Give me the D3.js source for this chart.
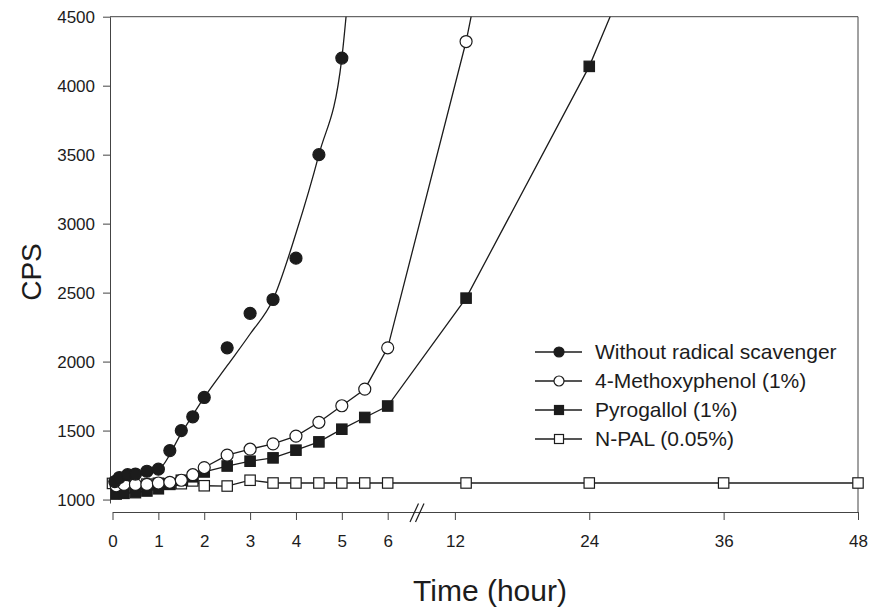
<!DOCTYPE html>
<html>
<head>
<meta charset="utf-8">
<script src="https://cdn.jsdelivr.net/npm/d3@7"></script>
<style>
  body { margin: 0; background: #fff; }
  svg { display: block; font-family: "Liberation Sans", Arial, sans-serif; }
</style>
</head>
<body>
<svg id="chart"></svg>
<script>
const width = 870;
const height = 609;

// Without radical scavenger (points + fitted curve)
const noScavTime = [0.05, 0.15, 0.33, 0.5, 0.75, 1, 1.25, 1.5, 1.75, 2, 2.5, 3, 3.5, 4, 4.5, 5];
const noScavCPS  = [1130, 1160, 1180, 1185, 1205, 1220, 1355, 1500, 1600, 1740, 2100, 2350, 2450, 2750, 3500, 4200];
const noScavFitTime = [0, 0.5, 1, 1.5, 2, 2.5, 3, 3.5, 4, 4.5, 5, 5.12];
const noScavFitCPS  = [1130, 1170, 1215, 1480, 1740, 1970, 2200, 2450, 2930, 3500, 4200, 4600];

// 4-Methoxyphenol (1%)
const methoxyTime = [0.08, 0.25, 0.5, 0.75, 1, 1.25, 1.5, 1.75, 2, 2.5, 3, 3.5, 4, 4.5, 5, 5.5, 6, 13, 24];
const methoxyCPS  = [1100, 1110, 1110, 1110, 1120, 1125, 1140, 1180, 1232, 1322, 1365, 1404, 1460, 1560, 1680, 1800, 2100, 4320, 8740];

// Pyrogallol (1%)
const pyroTime = [0.08, 0.25, 0.5, 0.75, 1, 1.25, 1.5, 1.75, 2, 2.5, 3, 3.5, 4, 4.5, 5, 5.5, 6, 13, 24, 36];
const pyroCPS  = [1040, 1045, 1050, 1062, 1078, 1110, 1140, 1165, 1200, 1243, 1278, 1302, 1358, 1418, 1510, 1595, 1678, 2460, 4140, 6460];

// N-PAL (0.05%)
const npalTime = [0, 0.2, 0.5, 0.75, 1, 1.25, 1.5, 1.75, 2, 2.5, 3, 3.5, 4, 4.5, 5, 5.5, 6, 13, 24, 36, 48];
const npalCPS  = [1117, 1105, 1090, 1112, 1118, 1115, 1115, 1135, 1100, 1098, 1140, 1120, 1120, 1120, 1120, 1120, 1120, 1120, 1120, 1120, 1120];

const xTicks = [0, 1, 2, 3, 4, 5, 6, 12, 24, 36, 48];
const yTicks = [1000, 1500, 2000, 2500, 3000, 3500, 4000, 4500];

const legendLabels = ["Without radical scavenger", "4-Methoxyphenol (1%)", "Pyrogallol (1%)", "N-PAL (0.05%)"];
const legendMarkers = ["filledCircle", "openCircle", "filledSquare", "openSquare"];

const svg = d3.select("#chart").attr("width", width).attr("height", height);

// broken time axis: 0-6 h stretched, 6-48 h compressed
const x = d3.scaleLinear().domain([0, 6, 48]).range([112.5, 387.7, 858]);
const y = d3.scaleLinear().domain([975, 4500]).range([503, 16.7]);

const ink = "#1c1c1c";
const axisInk = "#444";

// frame (top and right)
svg.append("line").attr("x1", 110).attr("x2", 858).attr("y1", 16.7).attr("y2", 16.7)
    .attr("stroke", axisInk).attr("stroke-width", 1);
svg.append("line").attr("x1", 858).attr("x2", 858).attr("y1", 16.7).attr("y2", 512)
    .attr("stroke", axisInk).attr("stroke-width", 1);

// y axis
const yAxis = svg.append("g")
    .attr("transform", "translate(110,0)")
    .call(d3.axisLeft(y).tickValues(yTicks).tickSize(7).tickSizeOuter(0).tickPadding(8).tickFormat(d3.format("d")));
yAxis.selectAll("text").attr("font-size", 17).attr("fill", ink)
    .attr("font-family", "'Liberation Sans', Arial, sans-serif");

// x axis
const xAxis = svg.append("g")
    .attr("transform", "translate(0,512)")
    .call(d3.axisBottom(x).tickValues(xTicks).tickSize(8).tickSizeOuter(0).tickPadding(15).tickFormat(d3.format("d")));
xAxis.selectAll("text").attr("font-size", 17).attr("fill", ink)
    .attr("font-family", "'Liberation Sans', Arial, sans-serif");

[yAxis, xAxis].forEach(a => {
    a.select(".domain").attr("stroke", axisInk);
    a.selectAll(".tick line").attr("stroke", axisInk);
});

// axis break marks
svg.append("g").attr("stroke", ink).attr("stroke-width", 1.2)
    .selectAll("line").data([0, 5.5]).enter().append("line")
    .attr("x1", d => 410 + d).attr("y1", 522)
    .attr("x2", d => 418.5 + d).attr("y2", 503.5);

// axis titles
svg.append("text").attr("x", 490).attr("y", 601).attr("text-anchor", "middle")
    .attr("font-size", 30).attr("fill", ink).text("Time (hour)");
svg.append("text").attr("transform", "translate(41,272) rotate(-90)").attr("text-anchor", "middle")
    .attr("font-size", 28).attr("fill", ink).text("CPS");

// clip to plotting area
svg.append("clipPath").attr("id", "plotClip")
    .append("rect").attr("x", 100).attr("y", 16.7).attr("width", 770).attr("height", 510);

const plot = svg.append("g").attr("clip-path", "url(#plotClip)");

const straight = d3.line().x(d => x(d[0])).y(d => y(d[1]));
const smooth = d3.line().x(d => x(d[0])).y(d => y(d[1])).curve(d3.curveMonotoneX);
const zip = (t, v) => t.map((d, i) => [d, v[i]]);

const noScav = zip(noScavTime, noScavCPS);
const methoxy = zip(methoxyTime, methoxyCPS);
const pyro = zip(pyroTime, pyroCPS);
const npal = zip(npalTime, npalCPS);

// lines
plot.append("path").datum(zip(noScavFitTime, noScavFitCPS)).attr("d", smooth)
    .attr("fill", "none").attr("stroke", ink).attr("stroke-width", 1.3);
[npal, pyro, methoxy].forEach(s => {
    plot.append("path").datum(s).attr("d", straight)
        .attr("fill", "none").attr("stroke", ink).attr("stroke-width", 1.3);
});

// marker drawing helper
function drawMarker(sel, kind, size) {
    if (kind.endsWith("Circle")) {
        sel.append("circle").attr("r", size)
            .attr("fill", kind === "filledCircle" ? ink : "#fff")
            .attr("stroke", ink).attr("stroke-width", 1.2);
    } else {
        sel.append("rect").attr("x", -size).attr("y", -size)
            .attr("width", size * 2).attr("height", size * 2)
            .attr("fill", kind === "filledSquare" ? ink : "#fff")
            .attr("stroke", ink).attr("stroke-width", 1.2);
    }
}

const seriesMarks = [
    [npal, "openSquare"],
    [pyro, "filledSquare"],
    [methoxy, "openCircle"],
    [noScav, "filledCircle"]
];
seriesMarks.forEach(([data, kind]) => {
    plot.append("g").selectAll("g").data(data).enter().append("g")
        .attr("transform", d => `translate(${x(d[0])},${y(d[1])})`)
        .each(function() { drawMarker(d3.select(this), kind, kind.endsWith("Circle") ? 6 : 5.2); });
});

// legend
const legend = svg.append("g").attr("transform", "translate(535,352)");
const row = legend.selectAll("g").data(legendLabels).enter().append("g")
    .attr("transform", (d, i) => `translate(0,${i * 29})`);
row.append("line").attr("x1", 0).attr("x2", 47).attr("stroke", ink).attr("stroke-width", 1.3);
row.each(function(d, i) {
    const m = d3.select(this).append("g").attr("transform", "translate(24,0)");
    drawMarker(m, legendMarkers[i], legendMarkers[i].endsWith("Circle") ? 5 : 4.5);
});
row.append("text").attr("x", 60).attr("dy", "0.35em").attr("font-size", 21)
    .attr("fill", ink).text(d => d);
</script>
</body>
</html>
